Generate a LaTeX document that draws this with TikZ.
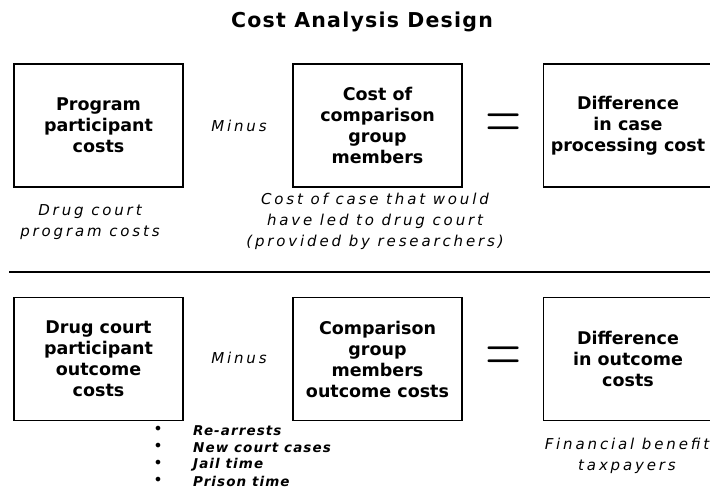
\documentclass[tikz,border=0pt]{standalone}
\usepackage{fontspec}
\usepackage{graphicx}
\setmainfont{DejaVu Sans}
\newfontfamily\titlefont[LetterSpace=6]{DejaVu Sans}
\newfontfamily\notefont[LetterSpace=19]{DejaVu Sans}
\newfontfamily\listfont[LetterSpace=8]{DejaVu Sans}
\usetikzlibrary{positioning}

\begin{document}
\begin{tikzpicture}[x=1pt, y=-1pt,
    costbox/.style={draw, line width=1.4pt, minimum width=169pt,
      minimum height=123pt, inner sep=0pt, align=center,
      font=\fontsize{17.5}{21}\selectfont\bfseries},
    note/.style={align=center, inner sep=0pt,
      font=\notefont\itshape\fontsize{15}{21}\selectfont},
    equals/.style={inner sep=0pt, font=\normalsize},
    listitem/.style={anchor=west, inner sep=0pt,
      font=\listfont\bfseries\itshape\fontsize{13.5}{17.5}\selectfont}]
                        \useasboundingbox (0,0) rectangle (710,489);
                        % title
                        \node[font=\titlefont\bfseries\fontsize{20.5}{24}\selectfont]
                        (title) at (362,22) {Cost Analysis Design};
                        % case processing row
                        \node[costbox] (progcost) at (98.5,125.5)
                        {Program\\participant\\costs};
                        \node[costbox] (compcost) at (377.5,125.5)
                        {Cost of\\comparison\\group\\members};
                        \node[costbox] (casediff) at (628,125.5)
                        {Difference\\in case\\processing cost};
                        \node[note] (minusA) at (239,126) {Minus};
                        \node[equals] (eqA) at (503.5,126) {\scalebox{4.65}[6.7]{$=$}};
                        \node[note] (prognote) at (90,222)
                        {Drug court\\program costs};
                        \node[note] (compnote) at (375,221)
                        {Cost of case that would\\have led to drug court\\(provided by researchers)};
                        % divider
                        \coordinate (divL) at (9,272);
                        \coordinate (divR) at (710,272);
                        \draw[line width=1.6pt] (divL) -- (divR);
                        % outcome row
                        \node[costbox] (partout) at (98.5,359)
                        {Drug court\\participant\\outcome\\costs};
                        \node[costbox] (compout) at (377.5,359)
                        {Comparison\\group\\members\\outcome costs};
                        \node[costbox] (outdiff) at (628,359)
                        {Difference\\in outcome\\costs};
                        \node[note] (minusB) at (239,358) {Minus};
                        \node[equals] (eqB) at (503.5,359) {\scalebox{4.65}[6.7]{$=$}};
                        \node[note] (benefit) at (627,456)
                        {Financial benefit\\taxpayers};
                        \foreach \txt [count=\i] in {Re-arrests, New court cases,
                          Jail time, Prison time} {
                          \node[inner sep=0pt, font=\fontsize{16}{16}\selectfont]
                          (dot\i) at (158,{413+17.2*\i}) {\textbullet};
                          \node[listitem] (item\i) at (193,{413+17.2*\i}) {\txt};
                        }
                    \end{tikzpicture}
\end{document}
